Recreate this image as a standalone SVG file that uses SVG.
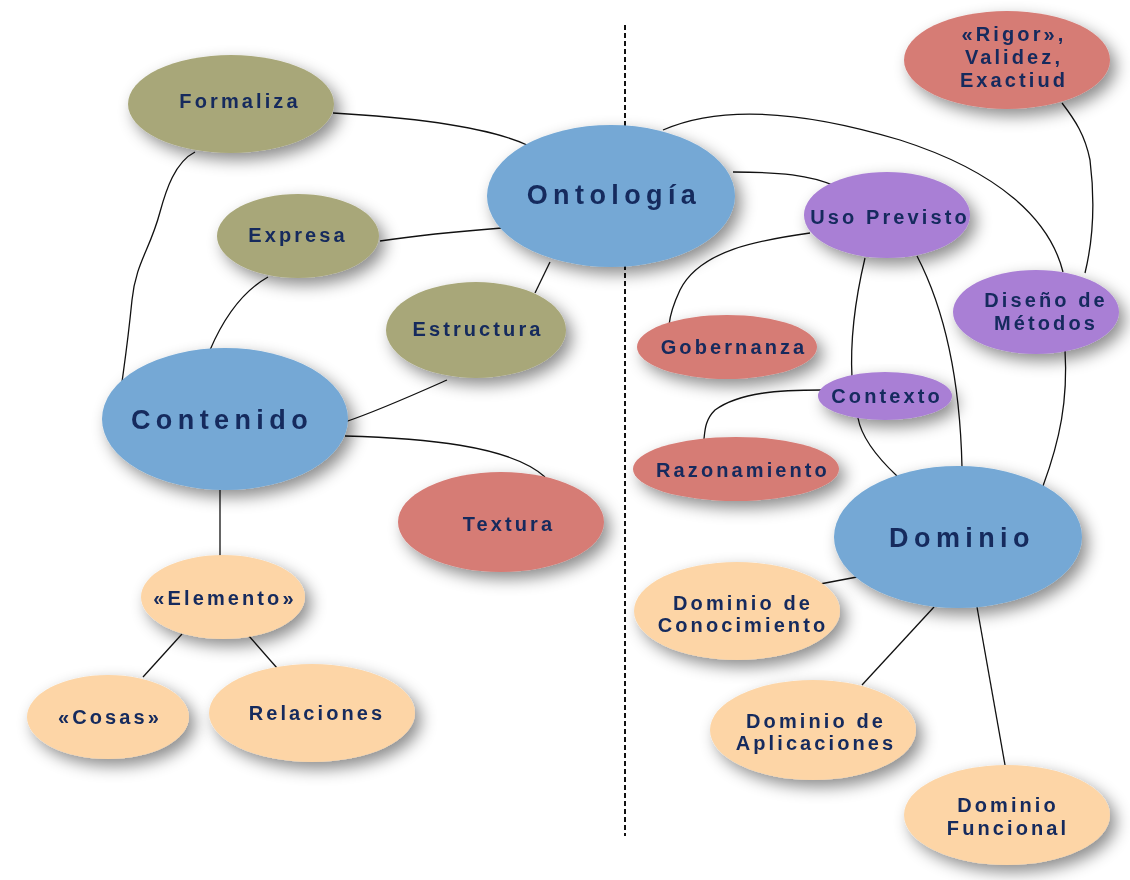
<svg xmlns="http://www.w3.org/2000/svg" width="1130" height="880" viewBox="0 0 1130 880">
<defs>
<filter id="sh" x="-30%" y="-30%" width="170%" height="180%">
<feGaussianBlur in="SourceAlpha" stdDeviation="8"/>
<feOffset dx="6" dy="7" result="b"/>
<feFlood flood-color="#000" flood-opacity="0.45"/>
<feComposite in2="b" operator="in" result="s"/>
<feMerge><feMergeNode in="s"/><feMergeNode in="SourceGraphic"/></feMerge>
</filter>
<style>
.n{filter:url(#sh)}
.ol{fill:#a8a779}
.bl{fill:#74a8d5}
.rd{fill:#d67b75}
.pu{fill:#a97fd5}
.pe{fill:#fdd5a6}
text{font-family:"Liberation Sans",Arial,sans-serif;font-weight:bold;fill:#12295d;text-anchor:middle;dominant-baseline:central}
.s{font-size:20px;letter-spacing:3.1px}
.b{font-size:27px;letter-spacing:5.4px}
.c path{fill:none;stroke:#111;stroke-width:1.3}
</style>
</defs>
<rect width="1130" height="880" fill="#fff"/>
<line x1="625" y1="25" x2="625" y2="836" stroke="#111" stroke-width="2" stroke-dasharray="5 3"/>
<g id="connectors" class="c">
<path d="M333,113 C420,118 490,128 527,145"/>
<path d="M195,152 C175,162 166,190 160,212 C150,250 136,262 132,300 C128,340 125,360 122,382"/>
<path d="M380,241 C420,235 450,232 502,228"/>
<path d="M268,277 C245,290 225,315 210,350"/>
<path d="M550,262 L535,293"/>
<path d="M447,380 C420,392 380,410 345,422"/>
<path d="M345,436 C420,438 510,445 545,477"/>
<path d="M220,490 L220,556"/>
<path d="M182,634 L143,677"/>
<path d="M249,636 L277,668"/>
<path d="M663,130 C720,105 800,110 900,140 C1000,172 1050,220 1063,272"/>
<path d="M733,172 C780,172 810,175 835,186"/>
<path d="M1062,103 C1075,120 1085,135 1090,160 C1095,200 1093,240 1085,273"/>
<path d="M810,233 C760,240 700,250 680,290 C673,305 670,315 669,325"/>
<path d="M865,258 C855,300 850,340 852,378"/>
<path d="M917,256 C945,310 960,380 962,467"/>
<path d="M822,390 C780,390 740,392 715,410 C705,420 705,430 704,439"/>
<path d="M858,418 C862,440 880,460 897,476"/>
<path d="M1065,350 C1068,400 1060,440 1043,486"/>
<path d="M857,577 L820,584"/>
<path d="M934,607 L862,685"/>
<path d="M977,607 L1005,765"/>
</g>
<g id="formaliza" class="n"><ellipse class="ol" cx="231" cy="104" rx="103" ry="49"/><text class="s" x="240" y="101">Formaliza</text></g>
<g id="expresa" class="n"><ellipse class="ol" cx="298" cy="236" rx="81" ry="42"/><text class="s" x="298" y="235">Expresa</text></g>
<g id="ontologia" class="n"><ellipse class="bl" cx="611" cy="196" rx="124" ry="71"/><text class="b" x="614" y="195">Ontología</text></g>
<g id="estructura" class="n"><ellipse class="ol" cx="476" cy="330" rx="90" ry="48"/><text class="s" x="478" y="329">Estructura</text></g>
<g id="contenido" class="n"><ellipse class="bl" cx="225" cy="419" rx="123" ry="71"/><text class="b" x="222" y="420">Contenido</text></g>
<g id="textura" class="n"><ellipse class="rd" cx="501" cy="522" rx="103" ry="50"/><text class="s" x="509" y="524">Textura</text></g>
<g id="elemento" class="n"><ellipse class="pe" cx="223" cy="597" rx="82" ry="42"/><text class="s" x="225" y="598">«Elemento»</text></g>
<g id="cosas" class="n"><ellipse class="pe" cx="108" cy="717" rx="81" ry="42"/><text class="s" x="110" y="717">«Cosas»</text></g>
<g id="relaciones" class="n"><ellipse class="pe" cx="312" cy="713" rx="103" ry="49"/><text class="s" x="317" y="713">Relaciones</text></g>
<g id="rigor" class="n"><ellipse class="rd" cx="1007" cy="60" rx="103" ry="49"/><text class="s" x="1014" y="34">«Rigor»,</text><text class="s" x="1014" y="57">Validez,</text><text class="s" x="1014" y="80">Exactiud</text></g>
<g id="uso" class="n"><ellipse class="pu" cx="887" cy="215" rx="83" ry="43"/><text class="s" x="890" y="217">Uso Previsto</text></g>
<g id="diseno" class="n"><ellipse class="pu" cx="1036" cy="312" rx="83" ry="42"/><text class="s" x="1046" y="300">Diseño de</text><text class="s" x="1046" y="323">Métodos</text></g>
<g id="gobernanza" class="n"><ellipse class="rd" cx="727" cy="347" rx="90" ry="32"/><text class="s" x="734" y="347">Gobernanza</text></g>
<g id="contexto" class="n"><ellipse class="pu" cx="885" cy="396" rx="67" ry="24"/><text class="s" x="887" y="396">Contexto</text></g>
<g id="razonamiento" class="n"><ellipse class="rd" cx="736" cy="469" rx="103" ry="32"/><text class="s" x="743" y="470">Razonamiento</text></g>
<g id="dominio" class="n"><ellipse class="bl" cx="958" cy="537" rx="124" ry="71"/><text class="b" x="962" y="538">Dominio</text></g>
<g id="conocimiento" class="n"><ellipse class="pe" cx="737" cy="611" rx="103" ry="49"/><text class="s" x="743" y="603">Dominio de</text><text class="s" x="743" y="625">Conocimiento</text></g>
<g id="aplicaciones" class="n"><ellipse class="pe" cx="813" cy="730" rx="103" ry="50"/><text class="s" x="816" y="721">Dominio de</text><text class="s" x="816" y="743">Aplicaciones</text></g>
<g id="funcional" class="n"><ellipse class="pe" cx="1007" cy="815" rx="103" ry="50"/><text class="s" x="1008" y="805">Dominio</text><text class="s" x="1008" y="828">Funcional</text></g>
</svg>
